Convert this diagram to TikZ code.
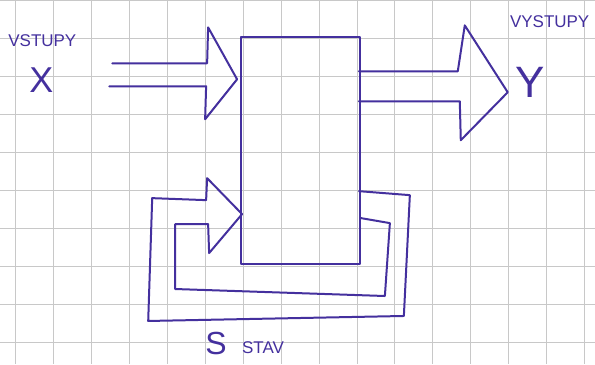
\documentclass[tikz,border=0pt]{standalone}
\usepackage{fontspec}
\setmainfont{Liberation Sans}
\definecolor{ink}{RGB}{68,48,158}
\definecolor{gridc}{RGB}{200,200,200}
\begin{document}
\begin{tikzpicture}[x=1pt,y=-1pt,
  inkline/.style={draw=ink, line width=2pt, line join=round, line cap=round},
  lbl/.style={text=ink, inner sep=0pt, font=\fontsize{17}{17}\selectfont},
  biglbl/.style={text=ink, inner sep=0pt}]
\fill[white] (0,0) rectangle (595,363);
\foreach \i in {0,...,15} \draw[gridc, line width=0.8pt] ({15+38*\i},0) -- ({15+38*\i},363);
\foreach \j in {0,...,9} \draw[gridc, line width=0.8pt] (0,{-1+38*\j}) -- (595,{-1+38*\j});
\useasboundingbox (0,0) rectangle (595,363);

% system block
\node[inkline, minimum width=119pt, minimum height=227pt, inner sep=0pt, anchor=north west] (sys) at (240,35) {};

% input arrow
\draw[inkline] (112,62) -- (207,62) -- (208,26) -- (237,78) -- (205,118) -- (206,85) -- (109,85);
% output arrow
\draw[inkline] (359,70) -- (458,70) -- (465,24) -- (508,91) -- (461,139) -- (460,100) -- (359,100);
% state feedback arrow
\draw[inkline] (359,190) -- (410,194) -- (404,315) -- (148,320) -- (152,197) -- (206,199)
  -- (207,177) -- (242,213) -- (209,252) -- (208,223) -- (175,223) -- (175,288)
  -- (385,295) -- (390,222) -- (361,217);

% labels
\node[lbl] (vst) at (42,39) {VSTUPY};
\node[biglbl, font=\fontsize{36}{36}\selectfont] (x) at (41,79) {X};
\node[lbl] (vyst) at (550,20) {VYSTUPY};
\node[biglbl, font=\fontsize{44}{44}\selectfont] (y) at (530,81) {Y};
\node[biglbl, font=\fontsize{32}{32}\selectfont] (s) at (216,343) {S};
\node[lbl] (stav) at (263,347) {STAV};
\end{tikzpicture}
\end{document}
